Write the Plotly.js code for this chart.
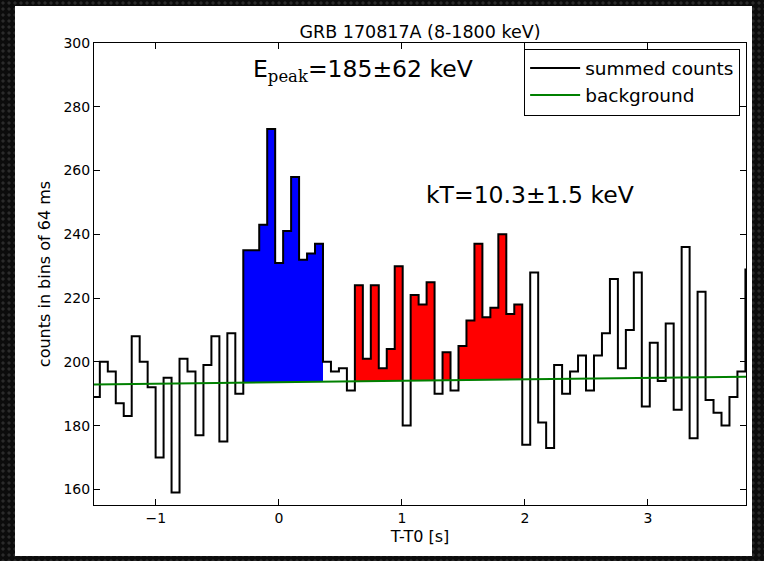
<!DOCTYPE html>
<html>
<head>
<meta charset="utf-8">
<script src="https://cdn.plot.ly/plotly-3.0.1.min.js"></script>
<style>
  html, body { margin: 0; padding: 0; }
  body {
    width: 764px; height: 561px; overflow: hidden; position: relative;
    background-color: #0c0c0c;
    background-image: radial-gradient(circle, #2b2b2b 1.2px, rgba(0,0,0,0) 2px);
    background-size: 6px 6px;
  }
  #panel { position: absolute; left: 15px; top: 6px; width: 737px; height: 550px; background: #ffffff; }
  #plot { position: absolute; left: 0; top: 0; width: 764px; height: 561px; }
</style>
</head>
<body>
<div id="panel"></div>
<div id="plot"></div>
<script>
// Summed counts per 64 ms bin (left to right)
const counts = [
  189, 200, 197, 187, 183, 208, 200, 192, 170, 195,
  159, 201, 197, 177, 199, 208, 175, 209, 190, 235,
  235, 243, 273, 231, 241, 258, 232, 234, 237, 200,
  197, 198, 191, 224, 201, 224, 198, 204, 230, 180,
  221, 218, 225, 190, 203, 191, 205, 213, 237, 214,
  217, 240, 215, 218, 174, 228, 181, 173, 199, 190,
  197, 202, 191, 202, 209, 226, 198, 210, 228, 186,
  206, 194, 212, 185, 236, 176, 222, 188, 184, 180,
  189, 197, 229
];
const firstEdge = -1.5204;   // left edge of first bin (s)
const binWidth = 0.0648;     // bin width on the plotted time axis (s)

// Background model line
const bgTime = [-1.503, 3.798];
const bgLevel = [192.9, 195.3];

// Highlighted intervals (bin index ranges, inclusive)
const blueBins = [19, 28];
const redBins = [33, 53];

const xTicks = [-1, 0, 1, 2, 3];
const yTicks = [160, 180, 200, 220, 240, 260, 280, 300];

const n = counts.length;
const edges = [];
for (let i = 0; i <= n; i++) edges.push(firstEdge + i * binWidth);

function bgAt(t) {
  const f = (t - bgTime[0]) / (bgTime[1] - bgTime[0]);
  return bgLevel[0] + f * (bgLevel[1] - bgLevel[0]);
}

function fillTraces(range, color) {
  const i0 = range[0], i1 = range[1];
  const xs = edges.slice(i0, i1 + 2);
  const ys = [];
  for (let i = i0; i <= i1; i++) {
    const c = (edges[i] + edges[i + 1]) / 2;
    ys.push(Math.max(counts[i], bgAt(c)));
  }
  ys.push(ys[ys.length - 1]);
  const lower = {
    x: [xs[0], xs[xs.length - 1]],
    y: [bgAt(xs[0]), bgAt(xs[xs.length - 1])],
    mode: 'lines', line: {width: 0, color: color},
    showlegend: false, hoverinfo: 'skip'
  };
  const upper = {
    x: xs, y: ys, mode: 'lines',
    line: {width: 0, shape: 'hv', color: color},
    fill: 'tonexty', fillcolor: color,
    showlegend: false, hoverinfo: 'skip'
  };
  return [lower, upper];
}

const stepY = counts.concat([counts[n - 1]]);

const traces = [].concat(
  fillTraces(blueBins, '#0000ff'),
  fillTraces(redBins, '#ff0000'),
  [{
    x: edges, y: stepY, mode: 'lines', name: 'summed counts',
    line: {color: '#000000', width: 2, shape: 'hv'}
  }, {
    x: bgTime, y: bgLevel, mode: 'lines', name: 'background',
    line: {color: '#008000', width: 2}
  }]
);

const font = 'DejaVu Sans, sans-serif';
const layout = {
  width: 764, height: 561,
  margin: {l: 94, r: 18, t: 43, b: 56, pad: 0},
  paper_bgcolor: 'rgba(0,0,0,0)',
  plot_bgcolor: '#ffffff',
  font: {family: font, color: '#000000', size: 13},
  title: {
    text: 'GRB 170817A (8-1800 keV)',
    font: {family: font, size: 17.5, color: '#000'},
    x: 0.5, xref: 'paper', xanchor: 'center',
    y: 1, yref: 'paper', yanchor: 'bottom', pad: {b: 5}
  },
  xaxis: {
    range: [-1.503, 3.798],
    tickvals: xTicks, ticks: 'inside', ticklen: 6, tickwidth: 1, tickcolor: '#000',
    showline: true, linecolor: '#000', linewidth: 1, mirror: 'ticks',
    showgrid: false, zeroline: false,
    tickfont: {family: font, size: 14},
    title: {text: 'T-T0 [s]', font: {family: font, size: 16}, standoff: 6}
  },
  yaxis: {
    range: [155.1, 300],
    tickvals: yTicks, ticks: 'inside', ticklen: 6, tickwidth: 1, tickcolor: '#000',
    showline: true, linecolor: '#000', linewidth: 1, mirror: 'ticks',
    showgrid: false, zeroline: false,
    tickfont: {family: font, size: 14},
    title: {text: 'counts in bins of 64 ms', font: {family: font, size: 16}, standoff: 8}
  },
  legend: {
    x: 0.991, xanchor: 'right', y: 0.988, yanchor: 'top',
    traceorder: 'normal', itemwidth: 50,
    bgcolor: '#ffffff', bordercolor: '#000000', borderwidth: 1,
    font: {family: font, size: 18.5}
  },
  annotations: [{
    text: 'E<sub><span style="font-family:DejaVu Serif">peak</span></sub>=185±62 keV',
    xref: 'paper', yref: 'paper', x: 0.413, y: 0.94,
    xanchor: 'center', yanchor: 'middle', showarrow: false,
    font: {family: font, size: 23.5, color: '#000'}
  }, {
    text: 'kT=10.3±1.5 keV',
    xref: 'paper', yref: 'paper', x: 0.668, y: 0.671,
    xanchor: 'center', yanchor: 'middle', showarrow: false,
    font: {family: font, size: 23.5, color: '#000'}
  }],
  showlegend: true
};

Plotly.newPlot('plot', traces, layout, {staticPlot: true, displayModeBar: false});
</script>
</body>
</html>
